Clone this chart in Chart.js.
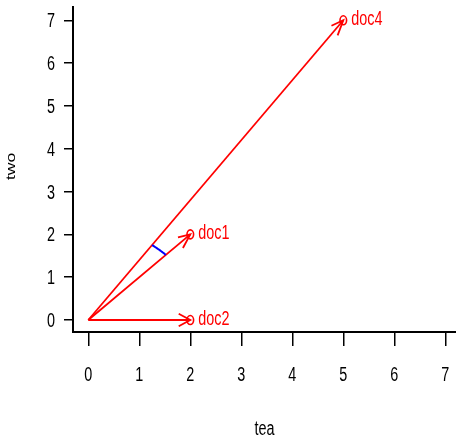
<!DOCTYPE html>
<html>
<head>
<meta charset="utf-8">
<script src="https://cdn.jsdelivr.net/npm/chart.js@4.4.1/dist/chart.umd.min.js"></script>
<style>
html,body{margin:0;padding:0;background:#fff;}
#wrap{width:456px;height:437px;}
</style>
</head>
<body>
<div id="wrap"><canvas id="c" width="456" height="437"></canvas></div>
<script>
// ---- data ----
const docs = ['doc1', 'doc2', 'doc4'];
const teaX = [2, 2, 5];
const twoY = [2, 0, 7];
const xTickValues = [0, 1, 2, 3, 4, 5, 6, 7];
const yTickValues = [0, 1, 2, 3, 4, 5, 6, 7];
const xTitle = 'tea';
const yTitle = 'two';
const angleBetween = ['doc4', 'doc1'];
const angleArcRadius = 2.15;   // in data units

const FONT = '"Liberation Sans", Arial, sans-serif';
const SX = 0.72;      // horizontal squeeze of the reference's text
const K = 1.35;       // vertical stretch of the reference's marks

const datasets = docs.map((d, i) => ({
  label: d,
  data: [{x: 0, y: 0}, {x: teaX[i], y: twoY[i]}],
  showLine: true,
  borderColor: '#ff0000',
  borderWidth: 1.8,
  pointRadius: 0,
  fill: false
}));

function txt(ctx, s, x, y, align, size, color, rotate) {
  ctx.save();
  ctx.translate(x, y);
  ctx.scale(SX, 1);
  if (rotate) ctx.rotate(-Math.PI / 2);
  ctx.font = size + 'px ' + FONT;
  ctx.fillStyle = color;
  ctx.textAlign = align;
  ctx.textBaseline = 'alphabetic';
  ctx.fillText(s, 0, 0);
  ctx.restore();
}

const vectorPlugin = {
  id: 'vectors',
  afterDraw(chart) {
    const ctx = chart.ctx;
    const xs = chart.scales.x, ys = chart.scales.y;
    const ca = chart.chartArea;
    // tick labels
    xTickValues.forEach(v => txt(ctx, String(v), xs.getPixelForValue(v), 381, 'center', 20, '#000'));
    yTickValues.forEach(v => txt(ctx, String(v), 55, ys.getPixelForValue(v) + 7, 'right', 20, '#000'));
    // axis titles
    txt(ctx, xTitle, (ca.left + ca.right) / 2, 435, 'center', 20, '#000');
    txt(ctx, yTitle, 15, (ca.top + ca.bottom) / 2 - 3, 'center', 17.5, '#000', true);

    const ox = xs.getPixelForValue(0), oy = ys.getPixelForValue(0);
    ctx.save();
    docs.forEach((d, i) => {
      const px = xs.getPixelForValue(teaX[i]);
      const py = ys.getPixelForValue(twoY[i]);
      const ang = Math.atan2((py - oy) / K, px - ox);
      const L = 12.5, a = 22 * Math.PI / 180;
      ctx.strokeStyle = '#ff0000';
      ctx.lineWidth = 1.8;
      ctx.beginPath();
      ctx.moveTo(px - L * Math.cos(ang - a), py - K * L * Math.sin(ang - a));
      ctx.lineTo(px, py);
      ctx.lineTo(px - L * Math.cos(ang + a), py - K * L * Math.sin(ang + a));
      ctx.stroke();
      ctx.lineWidth = 1.6;
      ctx.beginPath();
      ctx.ellipse(px, py, 3.3, 3.3 * K, 0, 0, Math.PI * 2);
      ctx.stroke();
      txt(ctx, d, px + 8, py + 5, 'left', 20, '#ff0000');
    });
    // angle arc (circle of given radius in data units)
    const i1 = docs.indexOf(angleBetween[0]), i2 = docs.indexOf(angleBetween[1]);
    const t1 = Math.atan2(twoY[i1], teaX[i1]);
    const t2 = Math.atan2(twoY[i2], teaX[i2]);
    ctx.strokeStyle = '#0000ff';
    ctx.lineWidth = 2;
    ctx.beginPath();
    const n = 24;
    for (let j = 0; j <= n; j++) {
      const t = t1 + (t2 - t1) * j / n;
      const X = xs.getPixelForValue(angleArcRadius * Math.cos(t));
      const Y = ys.getPixelForValue(angleArcRadius * Math.sin(t));
      if (j === 0) ctx.moveTo(X, Y); else ctx.lineTo(X, Y);
    }
    ctx.stroke();
    ctx.restore();
  }
};

function noPad(s) { s.paddingLeft = 0; s.paddingRight = 0; s.paddingTop = 0; s.paddingBottom = 0; }

new Chart(document.getElementById('c'), {
  type: 'scatter',
  data: {datasets},
  options: {
    responsive: false,
    devicePixelRatio: 1,
    animation: false,
    layout: {padding: {top: 7, right: 0, bottom: 0, left: 0}},
    plugins: {legend: {display: false}, tooltip: {enabled: false}},
    scales: {
      x: {
        type: 'linear',
        min: -0.30, max: 7.21,
        afterFit(s) { s.height = 105; noPad(s); },
        afterBuildTicks(s) { s.ticks = xTickValues.map(v => ({value: v})); },
        grid: {drawOnChartArea: false, drawTicks: true, tickLength: 14, color: '#000', lineWidth: 1.5},
        border: {display: true, color: '#000', width: 2},
        ticks: {display: false, autoSkip: false},
        title: {display: false}
      },
      y: {
        type: 'linear',
        min: -0.28, max: 7.31,
        afterFit(s) { s.width = 73; noPad(s); },
        afterBuildTicks(s) { s.ticks = yTickValues.map(v => ({value: v})); },
        grid: {drawOnChartArea: false, drawTicks: true, tickLength: 9, color: '#000', lineWidth: 1.5},
        border: {display: true, color: '#000', width: 2},
        ticks: {display: false, autoSkip: false},
        title: {display: false}
      }
    }
  },
  plugins: [vectorPlugin]
});
</script>
</body>
</html>
